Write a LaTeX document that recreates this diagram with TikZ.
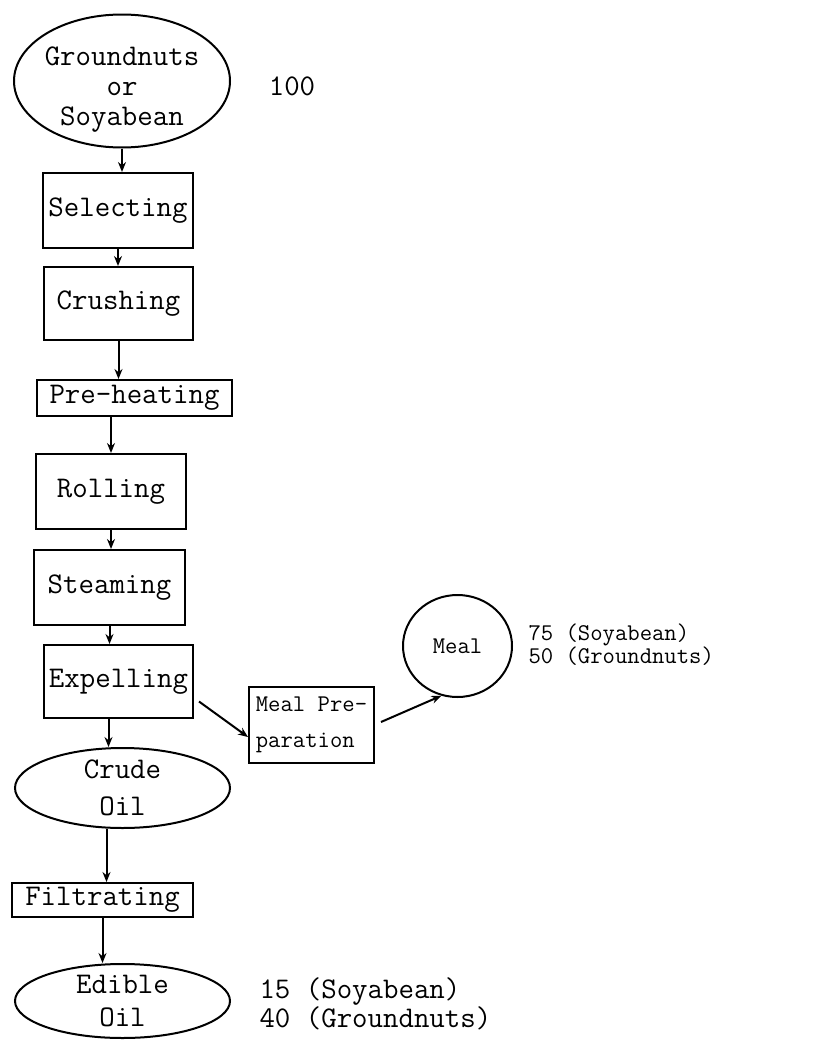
\documentclass[tikz,border=0pt]{standalone}
\usepackage{tikz}
\usetikzlibrary{arrows.meta,calc,shapes.geometric,positioning}

\begin{document}
\begin{tikzpicture}[x=1pt,y=-1pt,
  every node/.style={font=\fontsize{30}{30}\selectfont\ttfamily},
  stepbox/.style={draw,line width=2pt,rectangle,inner sep=0pt},
  oval/.style={draw,line width=2pt,ellipse,inner sep=0pt,align=center},
  small/.style={font=\fontsize{24}{24}\selectfont\ttfamily},
  flow/.style={-{Stealth[length=10pt,width=8pt]},line width=2pt}]
\useasboundingbox (0,0) rectangle (834,1044);
\node[oval,minimum width=216pt,minimum height=133pt] (seed) at (122,81) {};
\node[align=center] (seedtext) at ([yshift=-9pt]seed.center) {Groundnuts\\or\\Soyabean};
\node (amt) at (292,86) {100};
\node[stepbox,minimum width=150pt,minimum height=75pt] (select) at (118,210.5) {Selecting};
\node[stepbox,minimum width=149pt,minimum height=73pt] (crush) at (118.5,303.5) {Crushing};
\node[stepbox,minimum width=195pt,minimum height=36pt] (preheat) at (134.5,398) {Pre-heating};
\node[stepbox,minimum width=150pt,minimum height=75pt] (roll) at (111,491.5) {Rolling};
\node[stepbox,minimum width=151pt,minimum height=75pt] (steam) at (109.5,587.5) {Steaming};
\node[stepbox,minimum width=149pt,minimum height=73pt] (expel) at (118.5,681.5) {Expelling};
\node[oval,minimum width=215pt,minimum height=80pt] (crude) at (122.5,788) {Crude\\[7pt]Oil};
\node[stepbox,minimum width=181pt,minimum height=34pt] (filter) at (102.5,900) {Filtrating};
\node[oval,minimum width=215pt,minimum height=74pt] (edible) at (122.5,1001) {Edible\\[3pt]Oil};
\node[anchor=west,align=left,font=\fontsize{30}{27}\selectfont\ttfamily] (oilamt) at (256,1003.5) {15 (Soyabean)\\40 (Groundnuts)};
\node[stepbox,small,align=left,minimum width=125pt,minimum height=76pt] (prep) at (311.5,725) {Meal Pre-\\[12pt]paration};
\node[oval,small,minimum width=109pt,minimum height=102pt] (meal) at (457.5,646) {Meal};
\node[anchor=west,align=left,font=\fontsize{24}{20}\selectfont\ttfamily] (mealamt) at (525,645) {75 (Soyabean)\\50 (Groundnuts)};
\draw[flow] (seed.south) -- (seed.south |- select.north);
\draw[flow] (select.south) -- (select.south |- crush.north);
\draw[flow] (crush.south) -- (crush.south |- preheat.north);
\draw[flow] (preheat.south -| roll.north) -- (roll.north);
\draw[flow] (roll.south) -- (roll.south |- steam.north);
\draw[flow] (steam.south) -- (steam.south |- expel.north);
\draw[flow] ([xshift=-10pt]expel.south) -- ([xshift=-10pt]expel.south |- crude.north);
\draw[flow] ([xshift=-16pt]crude.south) -- ([xshift=-16pt]crude.south |- filter.north);
\draw[flow] (filter.south) -- (filter.south |- edible.north);
\draw[flow] ([shift={(5pt,-20pt)}]expel.east) -- ([yshift=-12pt]prep.west);
\draw[flow] ([shift={(6pt,3pt)}]prep.east) -- (meal.252);
\end{tikzpicture}
\end{document}
